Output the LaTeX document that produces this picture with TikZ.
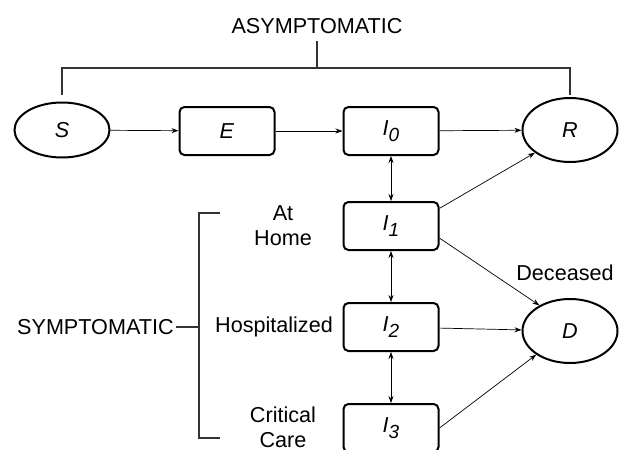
\documentclass[tikz,border=0pt]{standalone}
\usepackage{fontspec}
\setmainfont{Liberation Sans}
\usetikzlibrary{arrows.meta,shapes.geometric}
\newcommand{\comp}[2]{\textit{#1}\raisebox{-3pt}{\fontsize{9.5}{10}\selectfont\textit{#2}}}
\tikzset{
  stage/.style={draw,line width=1pt,rounded corners=2.5pt,minimum width=47.5pt,minimum height=24pt,inner sep=0pt},
  pool/.style={draw,ellipse,line width=1pt,minimum width=47.5pt,minimum height=#1,inner sep=0pt},
  flow/.style={-{Stealth[length=3.5pt,width=2.5pt]},line width=0.35pt},
  swap/.style={{Stealth[length=3.5pt,width=2.5pt]}-{Stealth[length=3.5pt,width=2.5pt]},line width=0.35pt},
  bracket/.style={line width=0.8pt,black!80},
  tag/.style={align=center,inner sep=0pt}
}
\begin{document}
\begin{tikzpicture}[x=0.5pt,y=-0.5pt,font=\fontsize{10.8}{12.5}\selectfont]
  \clip (0,0) rectangle (623,450);
  % compartments
  \node[pool=27.5pt] (S) at (62,130) {\textit{S}};
  \node[stage] (E) at (227,131) {\textit{E}};
  \node[stage] (I0) at (391,131) {\comp{I}{0}};
  \node[pool=32pt] (R) at (570,130) {\textit{R}};
  \node[stage] (I1) at (391,226) {\comp{I}{1}};
  \node[stage] (I2) at (391,327) {\comp{I}{2}};
  \node[stage] (I3) at (391,428) {\comp{I}{3}};
  \node[pool=32pt] (D) at (570,331) {\textit{D}};
  % labels
  \node[tag] (asym) at (317,26) {ASYMPTOMATIC};
  \node[tag,anchor=east] (symp) at (174,327) {SYMPTOMATIC};
  \node[tag] (home) at (283,226) {At\\Home};
  \node[tag] (hosp) at (274,327) {Hospitalized};
  \node[tag] (crit) at (283,427) {Critical\\Care};
  \node[tag] (dead) at (565,273) {Deceased};
  % brackets
  \coordinate (top) at (317,68);
  \coordinate (mid) at (199,327);
  \draw[bracket] (asym.south |- 0,41) -- (top);
  \draw[bracket] (S.north |- 0,95) -- (S.north |- top) -- (R.north |- top) -- (R.north |- 0,95);
  \draw[bracket] (symp.east) ++(2,0) -- (mid);
  \draw[bracket] (220,213) -- (199,213) -- (199,438) -- (220,438);
  % flows
  \draw[flow] (S) -- (E);
  \draw[flow] (E) -- (I0);
  \draw[flow] (I0) -- (R);
  \draw[flow] (I1.20) -- (R.213);
  \draw[flow] (I1.-14) -- (D.140);
  \draw[flow] (I2) -- (D);
  \draw[flow] (I3.east) -- (D.215);
  \draw[swap] (I0) -- (I1);
  \draw[swap] (I1) -- (I2);
  \draw[swap] (I2) -- (I3);
\end{tikzpicture}
\end{document}
